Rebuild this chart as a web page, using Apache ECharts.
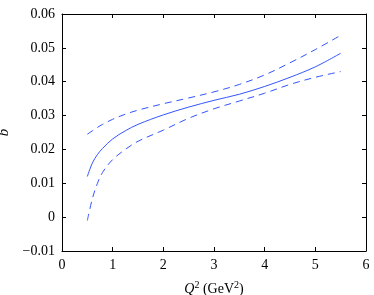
<!DOCTYPE html>
<html>
<head>
<meta charset="utf-8">
<script src="https://cdn.jsdelivr.net/npm/echarts@6/dist/echarts.min.js"></script>
<style>html,body{margin:0;padding:0;background:#fff}#c{width:374px;height:295px}</style>
</head>
<body>
<div id="c"></div>
<script>
var q2 = [0.5, 0.6, 0.7, 0.8, 1.0, 1.25, 1.5, 2.0, 2.5, 3.0, 3.5, 4.0, 4.5, 5.0, 5.5];
var central = [0.0120, 0.0160, 0.0185, 0.0203, 0.0231, 0.0255, 0.0274, 0.0302, 0.0325, 0.0345, 0.0363, 0.0386, 0.0413, 0.0444, 0.0484];
var upper = [0.0245, 0.0255, 0.0265, 0.0274, 0.0289, 0.0304, 0.0316, 0.0335, 0.0352, 0.0370, 0.0392, 0.0420, 0.0456, 0.0495, 0.0537];
var lower = [-0.0010, 0.0055, 0.0100, 0.0132, 0.0170, 0.0200, 0.0224, 0.0257, 0.0292, 0.0320, 0.0343, 0.0366, 0.0392, 0.0413, 0.0430];
var xTicks = [0, 1, 2, 3, 4, 5, 6];
var yTicks = [-0.01, 0, 0.01, 0.02, 0.03, 0.04, 0.05, 0.06];

function pairs(ys) { return q2.map(function (x, i) { return [x, ys[i]]; }); }

var font = 'Liberation Serif';
var lineColor = '#3355ff';
var axisCommon = {
  axisLine: { show: true, onZero: false, lineStyle: { color: '#000', width: 1 } },
  axisTick: { show: true, inside: true, length: 4, lineStyle: { color: '#000' } },
  splitLine: { show: false }
};

var chart = echarts.init(document.getElementById('c'), null, { renderer: 'canvas' });
chart.setOption({
  animation: false,
  backgroundColor: '#fff',
  grid: { left: 62, right: 8, top: 14, bottom: 44, containLabel: false, outerBoundsMode: 'none' },
  xAxis: [
    Object.assign({
      type: 'value', min: xTicks[0], max: xTicks[xTicks.length - 1], interval: 1,
      position: 'bottom',
      name: '{i|Q}{s|2} (GeV{s|2})', nameLocation: 'middle', nameGap: 29,
      nameTextStyle: {
        fontFamily: font, fontSize: 14, color: '#000',
        rich: {
          i: { fontFamily: font, fontStyle: 'italic', fontSize: 14, color: '#000' },
          s: { fontFamily: font, fontSize: 10, color: '#000', verticalAlign: 'top', padding: [0, 0, 8, 0] }
        }
      },
      axisLabel: { fontFamily: font, fontSize: 14, color: '#000', margin: 7 }
    }, axisCommon),
    Object.assign({
      type: 'value', min: xTicks[0], max: xTicks[xTicks.length - 1], interval: 1,
      position: 'top', axisLabel: { show: false }
    }, axisCommon)
  ],
  yAxis: [
    Object.assign({
      type: 'value', min: yTicks[0], max: yTicks[yTicks.length - 1], interval: 0.01,
      position: 'left',
      name: 'b', nameLocation: 'middle', nameGap: 48, nameRotate: 90,
      nameTextStyle: { fontFamily: font, fontStyle: 'italic', fontSize: 15, color: '#000' },
      axisLabel: {
        fontFamily: font, fontSize: 14, color: '#000', margin: 7,
        formatter: function (v) {
          var s = (Math.round(v * 100) / 100).toString();
          if (s === '-0.01') s = '\u22120.01';
          return s;
        }
      }
    }, axisCommon),
    Object.assign({
      type: 'value', min: yTicks[0], max: yTicks[yTicks.length - 1], interval: 0.01,
      position: 'right', axisLabel: { show: false }
    }, axisCommon)
  ],
  series: [
    { type: 'line', data: pairs(central), smooth: 0.35, showSymbol: false,
      lineStyle: { color: lineColor, width: 1, type: 'solid' } },
    { type: 'line', data: pairs(upper), smooth: 0.35, showSymbol: false,
      lineStyle: { color: lineColor, width: 1, type: [7, 5] } },
    { type: 'line', data: pairs(lower), smooth: 0.35, showSymbol: false,
      lineStyle: { color: lineColor, width: 1, type: [7, 5] } }
  ]
});
</script>
</body>
</html>
